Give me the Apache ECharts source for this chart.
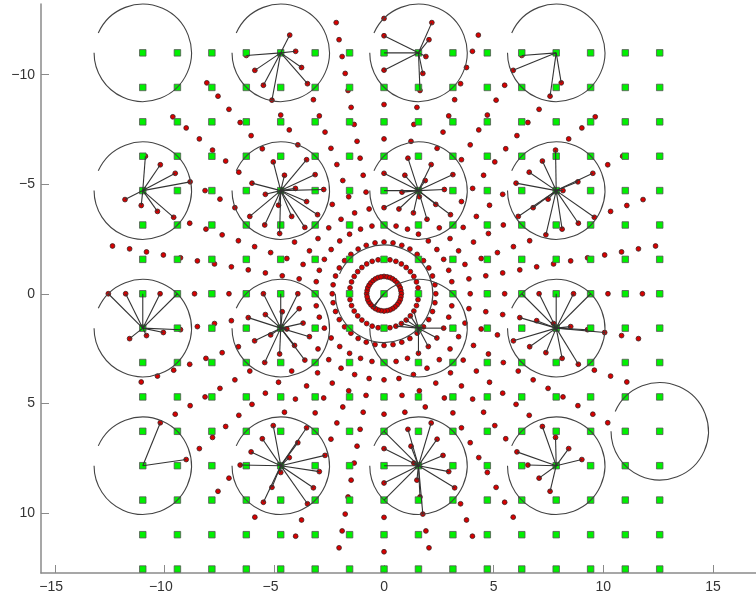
<!DOCTYPE html>
<html>
<head>
<meta charset="utf-8">
<title>chart</title>
<style>
    html,body{margin:0;padding:0;background:#fff;}
    #main{width:756px;height:602px;filter:blur(0.55px);}
</style>
<script src="https://cdn.jsdelivr.net/npm/echarts@6/dist/echarts.min.js"></script>
</head>
<body>
<div id="main"></div>
<script>
// axis ticks
var xTicks=[-15,-10,-5,0,5,10,15];
var yTicks=[-10,-5,0,5,10];
var xTickLabels=['−15  ','−10  ','−5  ','0','5','10','15'];
var yTickLabels=['−10','−5','0','5','10'];

// green squares: one row/column list, every crossing has a square
var latticeValues=[-11.0,-9.42,-7.85,-6.28,-4.71,-3.14,-1.57,0,1.57,3.14,4.71,6.28,7.85,9.42,11.0,12.57];

// red dots sit on rings and arms, these are the offsets of rings 1..16 along each arm
var offset0=[0,0,0,0,0,0,0,0,0,0,0,0,0,0,0,0];
var offset10=[.14,.27,.41,.55,.68,.82,.95,1.09,1.23,1.36,1.50,1.64,1.77,1.91,2.05,2.18];
var offset20=[.27,.54,.81,1.07,1.34,1.61,1.88,2.15,2.42,2.69,2.95,3.22,3.49,3.76,4.03,4.30];
var offset30=[.39,.79,1.18,1.57,1.96,2.36,2.75,3.14,3.53,3.93,4.32,4.71,5.11,5.50,5.89,6.28];
var offset40=[.50,1.01,1.51,2.02,2.52,3.03,3.53,4.04,4.54,5.05,5.55,6.06,6.56,7.07,7.57,8.08];
var offset50=[.60,1.20,1.80,2.41,3.01,3.61,4.21,4.81,5.41,6.02,6.62,7.22,7.82,8.42,9.02,9.63];
var offset60=[.68,1.36,2.04,2.72,3.40,4.08,4.76,5.44,6.12,6.80,7.48,8.16,8.84,9.52,10.20,10.88];
var offset70=[.74,1.48,2.21,2.95,3.69,4.43,5.17,5.90,6.64,7.38,8.12,8.86,9.59,10.33,11.07,11.81];
var offset80=[.77,1.55,2.32,3.09,3.87,4.64,5.41,6.19,6.96,7.73,8.51,9.28,10.06,10.83,11.60,12.38];
var offset90=[.79,1.57,2.36,3.14,3.93,4.71,5.50,6.28,7.07,7.85,8.64,9.42,10.21,11.00,11.78,12.57];
var armOffsets=[offset0,offset10,offset20,offset30,offset40,offset50,offset60,offset70,offset80,offset90];

// arm bearings, clockwise from straight up, with the number of rings each one reaches
var longArms=[0,10,20,30,40,50,60,70,80,90,270,280,290,300,310,320,330,340,350];
var shortArms=[100,110,120,130,140,150,160,170,180,190,200,210,220,230,240,250,260];

// big circles
var circleRadius=2.22;
var hubs=[
    [-11.0,-11.0],[-4.71,-11.0],[1.57,-11.0],[7.85,-11.0],
    [-11.0,-4.71],[-4.71,-4.71],[1.57,-4.71],[7.85,-4.71],
    [-11.0,1.57],[-4.71,1.57],[1.57,1.57],[7.85,1.57],
    [-11.0,7.85],[-4.71,7.85],[1.57,7.85],[7.85,7.85],
    [12.57,6.28],[0,0]
];
// for each hub: [bearing, rings joined to it on that arm]
var hubSpokes=[
    [],
    [[340,[13,14,15,16]],[330,[13,14,15,16]]],
    [[10,[12,13,14,15,16]],[0,[13,14,15]]],
    [[30,[15,16]],[40,[15,16]]],
    [[300,[13,14,15,16]],[290,[13,14,15,16]]],
    [[320,[6,7,8,9,10]],[310,[6,7,8,9,10]],[330,[7,8,9]],[300,[7,8,9]]],
    [[0,[5,6,7]],[10,[5,6,7,8]],[20,[5,6,7,8]],[30,[5,6,7,8]],[40,[6]]],
    [[50,[10,11,12,13]],[60,[9,10,11,12,13,14]],[70,[10,11,12,13]]],
    [[270,[12,13,14,15,16]],[260,[12,13,14,15]]],
    [[270,[5,6,7]],[260,[5,6,7,8]],[250,[5,6,7,8]],[240,[5,6,7,8]],[230,[6]]],
    [[120,[2,4]],[130,[2,3,4]],[140,[2,3,4]],[150,[2,4]],[160,[2]]],
    [[90,[8,9,10,11,12]],[100,[8,9,10,11,12,13]],[110,[8,9,10,11,12]]],
    [[240,[15]],[230,[15]]],
    [[220,[10,11,12,13]],[210,[9,10,11,12,13,14]],[200,[10,11,12,13]]],
    [[180,[8,9,10,11,12]],[170,[8,9,10,11,12,13]],[160,[8,9,10,11,12]]],
    [[130,[12,13,14,15]],[140,[12,13,14,15]]],
    [],
    [[220,[1]]]
];

function dotAt(bearing,ring){
    var part=Math.floor(bearing/90),
        k=(bearing-part*90)/10,
        a=armOffsets[k][ring-1],
        b=armOffsets[9-k][ring-1];
    if(part===0) return [a,-b];
    if(part===1) return [b,a];
    if(part===2) return [-a,b];
    return [-b,-a];
}

var squareData=[];
latticeValues.map(function(y){
    latticeValues.map(function(x){
        squareData.push([x,y]);
    });
});

var dotData=[];
longArms.map(function(bearing){
    for(var ring=1;ring<=16;ring++) dotData.push(dotAt(bearing,ring));
});
shortArms.map(function(bearing){
    for(var ring=1;ring<=15;ring++) dotData.push(dotAt(bearing,ring));
});

var spokeData=[];
hubSpokes.map(function(arms,i){
    arms.map(function(arm){
        arm[1].map(function(ring){
            var end=dotAt(arm[0],ring);
            spokeData.push([hubs[i][0],hubs[i][1],end[0],end[1]]);
        });
    });
});

var circleData=hubs.map(function(h){
    return [h[0],h[1],circleRadius];
});

var axisGray='#8a8a8a',
    labelColor='#333',
    labelFont='Liberation Sans';

var mychart=echarts.init(document.getElementById('main'),null,{renderer:'canvas'});
mychart.setOption({
    animation:false,
    backgroundColor:'#fff',
    grid:{left:41,right:0,top:4,bottom:29,containLabel:false},
    xAxis:{
        type:'value',
        min:-15.64,
        max:16.96,
        position:'bottom',
        splitLine:{show:false},
        axisLine:{onZero:false,lineStyle:{color:axisGray,width:1.5}},
        axisTick:{inside:true,length:8,customValues:xTicks,lineStyle:{color:axisGray,width:1}},
        axisLabel:{
            customValues:xTicks,
            margin:7,
            color:labelColor,
            fontFamily:labelFont,
            fontSize:14,
            formatter:function(v){return xTickLabels[xTicks.indexOf(v)];}
        }
    },
    yAxis:{
        type:'value',
        inverse:true,
        min:-13.23,
        max:12.75,
        position:'left',
        splitLine:{show:false},
        axisLine:{onZero:false,lineStyle:{color:axisGray,width:1.5}},
        axisTick:{inside:true,length:8,customValues:yTicks,lineStyle:{color:axisGray,width:1}},
        axisLabel:{
            customValues:yTicks,
            margin:6,
            color:labelColor,
            fontFamily:labelFont,
            fontSize:14,
            formatter:function(v){return yTickLabels[yTicks.indexOf(v)];}
        }
    },
    series:[
        {
            type:'scatter',
            z:2,
            silent:true,
            symbol:'circle',
            symbolSize:4.8,
            itemStyle:{color:'#d80000',borderColor:'#3a2020',borderWidth:0.8,opacity:1},
            data:dotData
        },
        {
            type:'scatter',
            z:3,
            silent:true,
            symbol:'rect',
            symbolSize:6.5,
            itemStyle:{color:'#00f000',borderColor:'#555',borderWidth:0.8,opacity:1},
            data:squareData
        },
        {
            type:'custom',
            z:4,
            silent:true,
            clip:false,
            renderItem:function(params,api){
                var c=api.coord([api.value(0),api.value(1)]);
                return {
                    type:'arc',
                    shape:{
                        cx:c[0],
                        cy:c[1],
                        r:api.size([api.value(2),0])[0],
                        startAngle:204*Math.PI/180,
                        endAngle:540*Math.PI/180,
                        clockwise:true
                    },
                    style:{stroke:'#444',fill:null,lineWidth:1.1}
                };
            },
            data:circleData
        },
        {
            type:'custom',
            z:5,
            silent:true,
            clip:false,
            renderItem:function(params,api){
                var a=api.coord([api.value(0),api.value(1)]),
                    b=api.coord([api.value(2),api.value(3)]);
                return {
                    type:'line',
                    shape:{x1:a[0],y1:a[1],x2:b[0],y2:b[1]},
                    style:{stroke:'#333',lineWidth:1.1}
                };
            },
            data:spokeData
        }
    ]
});
</script>
</body>
</html>
